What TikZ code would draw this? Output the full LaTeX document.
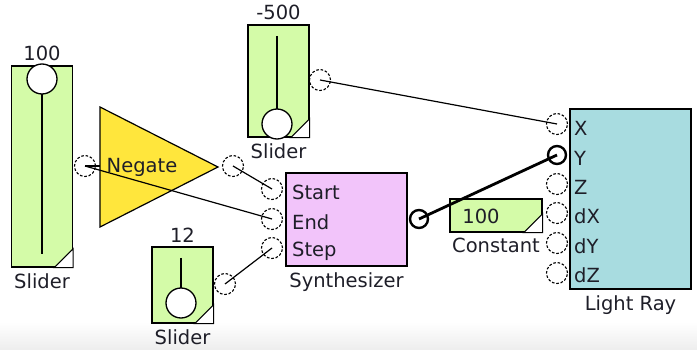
\documentclass[tikz,border=0pt]{standalone}
\usepackage{fontspec}
\setmainfont{DejaVu Sans}
\usetikzlibrary{positioning}
\definecolor{sliderfill}{HTML}{D4FBA8}
\definecolor{negfill}{HTML}{FFE63C}
\definecolor{synfill}{HTML}{F2C4FA}
\definecolor{rayfill}{HTML}{A8DCE0}
\definecolor{labeltext}{HTML}{1E1E28}
\tikzset{
  block/.style={draw=black, line width=1.4pt, inner sep=0pt},
  slider/.style={block, fill=sliderfill, minimum width=61pt},
  knob/.style={circle, draw=black, line width=1.3pt, fill=white, minimum size=30pt, inner sep=0pt},
  port/.style={circle, draw=black, dash pattern=on 2.6pt off 1.8pt, line width=1.1pt, minimum size=21pt, inner sep=0pt},
  boldport/.style={circle, draw=black, line width=2.4pt, minimum size=18pt, inner sep=0pt},
  corner/.style={fill=white, draw=black, line width=1pt},
  wire/.style={line width=1.2pt},
  boldwire/.style={line width=2.8pt},
  lbl/.style={font=\fontsize{19.5}{20}\selectfont, text=labeltext, inner sep=1pt}
}

\begin{document}
\begin{tikzpicture}[x=1pt, y=-1pt]
  \useasboundingbox (0,0) rectangle (697,350);
  \shade[top color=white, bottom color=gray!14] (0,322) rectangle (697,350);

  % slider 100
  \node[slider, minimum height=201pt] (sliderA) at (42,166.5) {};
  \draw[line width=1.3pt] (42,90) -- (42,254);
  \node[knob] (knobA) at (42,79) {};
  \filldraw[corner] (sliderA.south east) -- ++(-19,0) -- ++(19,-19) -- cycle;
  \node[lbl, above=3pt of sliderA] (sliderAVal) {100};
  \node[lbl, below=5pt of sliderA] (sliderALbl) {Slider};
  \node[port] (pA) at (85,166) {};

  % slider -500
  \node[slider, minimum height=112pt] (sliderB) at (278.5,81) {};
  \draw[line width=1.3pt] (277,36) -- (277,112);
  \node[knob] (knobB) at (277,124) {};
  \filldraw[corner] (sliderB.south east) -- ++(-19,0) -- ++(19,-19) -- cycle;
  \node[lbl, above=3pt of sliderB] (sliderBVal) {-500};
  \node[lbl, below=5pt of sliderB] (sliderBLbl) {Slider};
  \node[port] (pB) at (320,80) {};

  % slider 12
  \node[slider, minimum height=76pt] (sliderC) at (182.5,285) {};
  \draw[line width=1.3pt] (181,258) -- (181,290);
  \node[knob] (knobC) at (181,303) {};
  \filldraw[corner] (sliderC.south east) -- ++(-19,0) -- ++(19,-19) -- cycle;
  \node[lbl, above=3pt of sliderC] (sliderCVal) {12};
  \node[lbl, below=5pt of sliderC] (sliderCLbl) {Slider};
  \node[port] (pC) at (225,284) {};

  % negate
  \filldraw[fill=negfill, draw=black, line width=1.2pt] (100,107) -- (218,167) -- (100,227) -- cycle;
  \coordinate (negIn) at (100,166);
  \node[lbl] (negLbl) at (142,167) {Negate};
  \node[port] (pNeg) at (233,166) {};

  % synthesizer
  \node[block, fill=synfill, minimum width=121pt, minimum height=93pt] (syn) at (346.5,219.5) {};
  \node[lbl, below=5pt of syn] (synLbl) {Synthesizer};
  \node[port] (synStart) at (272,189) {};
  \node[port] (synEnd) at (272,219) {};
  \node[port] (synStep) at (272,248) {};
  \node[lbl, anchor=west] (synStartLbl) at (291,192) {Start};
  \node[lbl, anchor=west] (synEndLbl) at (291,222) {End};
  \node[lbl, anchor=west] (synStepLbl) at (291,251) {Step};
  \node[boldport] (pSyn) at (419,219) {};

  % constant
  \node[block, fill=sliderfill, minimum width=92pt, minimum height=33pt] (const) at (496,215.5) {};
  \filldraw[corner] (const.south east) -- ++(-19,0) -- ++(19,-19) -- cycle;
  \node[lbl] (constVal) at (481,216) {100};
  \node[lbl, below=4pt of const] (constLbl) {Constant};

  % light ray
  \node[block, fill=rayfill, minimum width=121pt, minimum height=180pt] (ray) at (630.5,199) {};
  \node[lbl, below=5pt of ray] (rayLbl) {Light Ray};
  \foreach \nm/\yy in {X/124, Z/184, dX/213, dY/243, dZ/273}
    \node[port] (ray\nm) at (557,\yy) {};
  \node[boldport] (rayY) at (557,155) {};
  \foreach \nm/\yy in {X/128, Y/158, Z/187, dX/216, dY/246, dZ/275}
    \node[lbl, anchor=west] (ray\nm Lbl) at (573,\yy) {\nm};

  % wires
  \draw[wire] (pA.center) -- (negIn);
  \draw[wire] (pA.center) -- (synEnd.center);
  \draw[wire] (pNeg.center) -- (synStart.center);
  \draw[wire] (pC.center) -- (synStep.center);
  \draw[wire] (pB.center) -- (rayX.center);
  \draw[boldwire] (pSyn.center) -- (rayY.center);
\end{tikzpicture}
\end{document}
